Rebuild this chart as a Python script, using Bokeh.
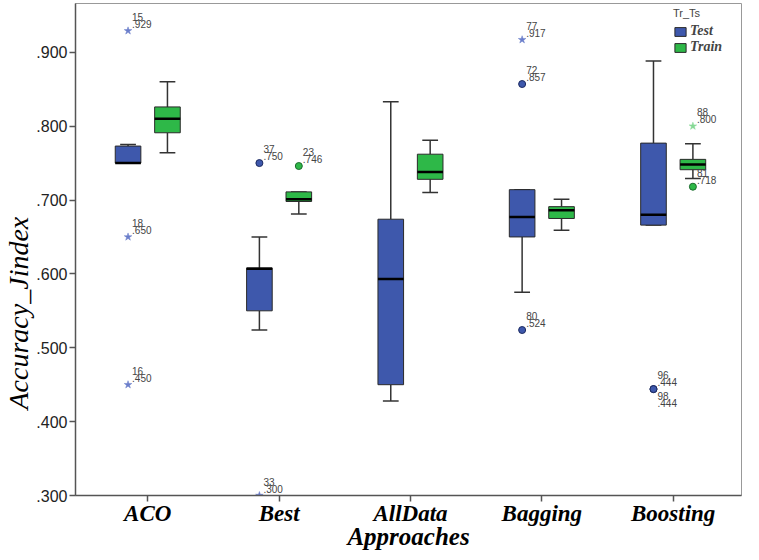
from bokeh.plotting import figure
from bokeh.models import FixedTicker, Legend, LegendItem, Range1d, ColumnDataSource, Title
from bokeh.core.properties import value
from bokeh.embed import file_html
from bokeh.resources import INLINE

categories = ["ACO", "Best", "AllData", "Bagging", "Boosting"]

test_min = [0.750, 0.524, 0.428, 0.575, 0.666]
test_q1 = [0.750, 0.550, 0.450, 0.650, 0.666]
test_med = [0.750, 0.607, 0.593, 0.677, 0.680]
test_q3 = [0.773, 0.608, 0.674, 0.714, 0.777]
test_max = [0.775, 0.650, 0.833, 0.714, 0.888]

train_min = [0.764, 0.681, 0.710, 0.659, 0.729]
train_q1 = [0.791, 0.698, 0.728, 0.675, 0.741]
train_med = [0.810, 0.701, 0.738, 0.686, 0.748]
train_q3 = [0.826, 0.711, 0.762, 0.691, 0.755]
train_max = [0.860, 0.711, 0.781, 0.701, 0.776]

test_out_cat = ["ACO", "ACO", "ACO", "Best", "Best", "Bagging", "Bagging", "Bagging", "Boosting", "Boosting"]
test_out_val = [0.929, 0.650, 0.450, 0.750, 0.300, 0.917, 0.857, 0.524, 0.444, 0.444]
test_out_id = ["15", "18", "16", "37", "33", "77", "72", "80", "96", "98"]
test_out_kind = ["star", "star", "star", "circle", "star", "star", "circle", "circle", "circle", "circle"]

train_out_cat = ["Best", "Boosting", "Boosting"]
train_out_val = [0.746, 0.800, 0.718]
train_out_id = ["23", "88", "81"]
train_out_kind = ["circle", "star", "circle"]

ytick_vals = [0.3, 0.4, 0.5, 0.6, 0.7, 0.8, 0.9]
ytick_labels = [".300", ".400", ".500", ".600", ".700", ".800", ".900"]

TEST_COLOR = "#3E58AC"
TRAIN_COLOR = "#2EB848"
OFF = 0.15
BOXW = 0.195
CAPW = 0.12

p = figure(width=743, height=552, output_backend="svg", toolbar_location=None,
           x_range=Range1d(0.45, 5.52), y_range=Range1d(0.3, 0.966),
           min_border_left=66, min_border_right=2, min_border_top=3, min_border_bottom=50)
p.background_fill_color = "white"
p.border_fill_color = "white"
p.outline_line_color = "#999999"
p.outline_line_width = 1
p.xgrid.visible = False
p.ygrid.visible = False

pos = {c: i + 1 for i, c in enumerate(categories)}


def draw_group(offset, mins, q1, med, q3, maxs, color):
    xs = [pos[c] + offset for c in categories]
    p.segment(x0=xs, x1=xs, y0=q3, y1=maxs, line_color="#333333", line_width=1.5)
    p.segment(x0=xs, x1=xs, y0=mins, y1=q1, line_color="#333333", line_width=1.5)
    p.segment(x0=[x - CAPW / 2 for x in xs], x1=[x + CAPW / 2 for x in xs], y0=maxs, y1=maxs,
              line_color="#333333", line_width=1.5)
    p.segment(x0=[x - CAPW / 2 for x in xs], x1=[x + CAPW / 2 for x in xs], y0=mins, y1=mins,
              line_color="#333333", line_width=1.5)
    r = p.vbar(x=xs, width=BOXW, bottom=q1, top=q3, fill_color=color, line_color="#2a2a2a", line_width=1)
    p.segment(x0=[x - BOXW / 2 for x in xs], x1=[x + BOXW / 2 for x in xs], y0=med, y1=med,
              line_color="black", line_width=2.5)
    return r


r_test = draw_group(-OFF, test_min, test_q1, test_med, test_q3, test_max, TEST_COLOR)
r_train = draw_group(OFF, train_min, train_q1, train_med, train_q3, train_max, TRAIN_COLOR)


def draw_outliers(offset, cats, vals, ids, kinds, fill, line, star_color):
    xs = [pos[c] + offset for c in cats]
    cx = [x for x, k in zip(xs, kinds) if k == "circle"]
    cy = [v for v, k in zip(vals, kinds) if k == "circle"]
    sx = [x for x, k in zip(xs, kinds) if k == "star"]
    sy = [v for v, k in zip(vals, kinds) if k == "star"]
    p.scatter(cx, cy, marker="circle", size=7, fill_color=fill, line_color=line, line_width=1)
    p.scatter(sx, sy, marker="star", size=8, fill_color=star_color, line_color=star_color, line_width=0.5)
    val_txt = ["." + ("%.3f" % v).split(".")[1] for v in vals]
    id_off = [7 if i == "98" else -14 for i in ids]
    val_off = [14 if i == "98" else -7 for i in ids]
    src = ColumnDataSource(dict(x=xs, y=vals, ids=ids, vt=val_txt, io=id_off, vo=val_off))
    p.text(x="x", y="y", text="ids", source=src, x_offset=4, y_offset="io",
           text_font=value("Liberation Sans"), text_font_size="10px", text_color="#444444",
           text_baseline="middle", text_align="left")
    p.text(x="x", y="y", text="vt", source=src, x_offset=4, y_offset="vo",
           text_font=value("Liberation Sans"), text_font_size="10px", text_color="#444444",
           text_baseline="middle", text_align="left")


draw_outliers(-OFF, test_out_cat, test_out_val, test_out_id, test_out_kind,
              TEST_COLOR, "#1c2a60", "#6B7ECB")
draw_outliers(OFF, train_out_cat, train_out_val, train_out_id, train_out_kind,
              TRAIN_COLOR, "#1d6b2e", "#86D995")

# axes
p.xaxis.ticker = FixedTicker(ticks=[pos[c] for c in categories])
p.xaxis.major_label_overrides = {pos[c]: c for c in categories}
p.xaxis.major_label_text_font = "Liberation Serif"
p.xaxis.major_label_text_font_style = "bold italic"
p.xaxis.major_label_text_font_size = "23px"
p.xaxis.major_label_text_color = "black"
p.xaxis.major_label_standoff = -1
p.xaxis.minor_tick_line_color = None
p.xaxis.major_tick_in = 0
p.xaxis.major_tick_out = 6
p.xaxis.axis_line_color = "#555555"
p.xaxis.axis_line_width = 1.5
p.xaxis.major_tick_line_color = "#555555"
p.xaxis.major_tick_line_width = 1.5
p.xaxis.axis_label = "Approaches"
p.xaxis.axis_label_text_font = "Liberation Serif"
p.xaxis.axis_label_text_font_style = "bold italic"
p.xaxis.axis_label_text_font_size = "25px"
p.xaxis.axis_label_text_color = "black"
p.xaxis.axis_label_standoff = -6

p.yaxis.ticker = FixedTicker(ticks=ytick_vals)
p.yaxis.major_label_overrides = dict(zip(ytick_vals, ytick_labels))
p.yaxis.major_label_text_font = "Liberation Sans"
p.yaxis.major_label_text_font_size = "16px"
p.yaxis.major_label_text_color = "#222222"
p.yaxis.major_label_standoff = 2
p.yaxis.minor_tick_line_color = None
p.yaxis.major_tick_in = 0
p.yaxis.major_tick_out = 6
p.yaxis.axis_line_color = "#555555"
p.yaxis.axis_line_width = 1.5
p.yaxis.major_tick_line_color = "#555555"
p.yaxis.major_tick_line_width = 1.5

ytitle = Title(text="Accuracy_Jindex", align="left", offset=86, standoff=0,
               text_font="Liberation Serif", text_font_style="italic", text_font_size="28px",
               text_color="black")
p.add_layout(ytitle, "left")

legend = Legend(items=[LegendItem(label="Test", renderers=[r_test]),
                       LegendItem(label="Train", renderers=[r_train])],
                location=(598, 440), title="Tr_Ts")
legend.title_text_font = "Liberation Sans"
legend.title_text_font_size = "11px"
legend.title_text_font_style = "normal"
legend.title_text_color = "#444444"
legend.title_standoff = 4
legend.label_text_font = "Liberation Serif"
legend.label_text_font_style = "bold italic"
legend.label_text_font_size = "14px"
legend.label_height = 10
legend.glyph_width = 14
legend.glyph_height = 11
legend.label_standoff = 3
legend.spacing = -4
legend.padding = 3
legend.margin = 0
legend.border_line_color = None
legend.background_fill_alpha = 0
p.add_layout(legend)

open("out.html", "w").write(file_html(p, INLINE))
